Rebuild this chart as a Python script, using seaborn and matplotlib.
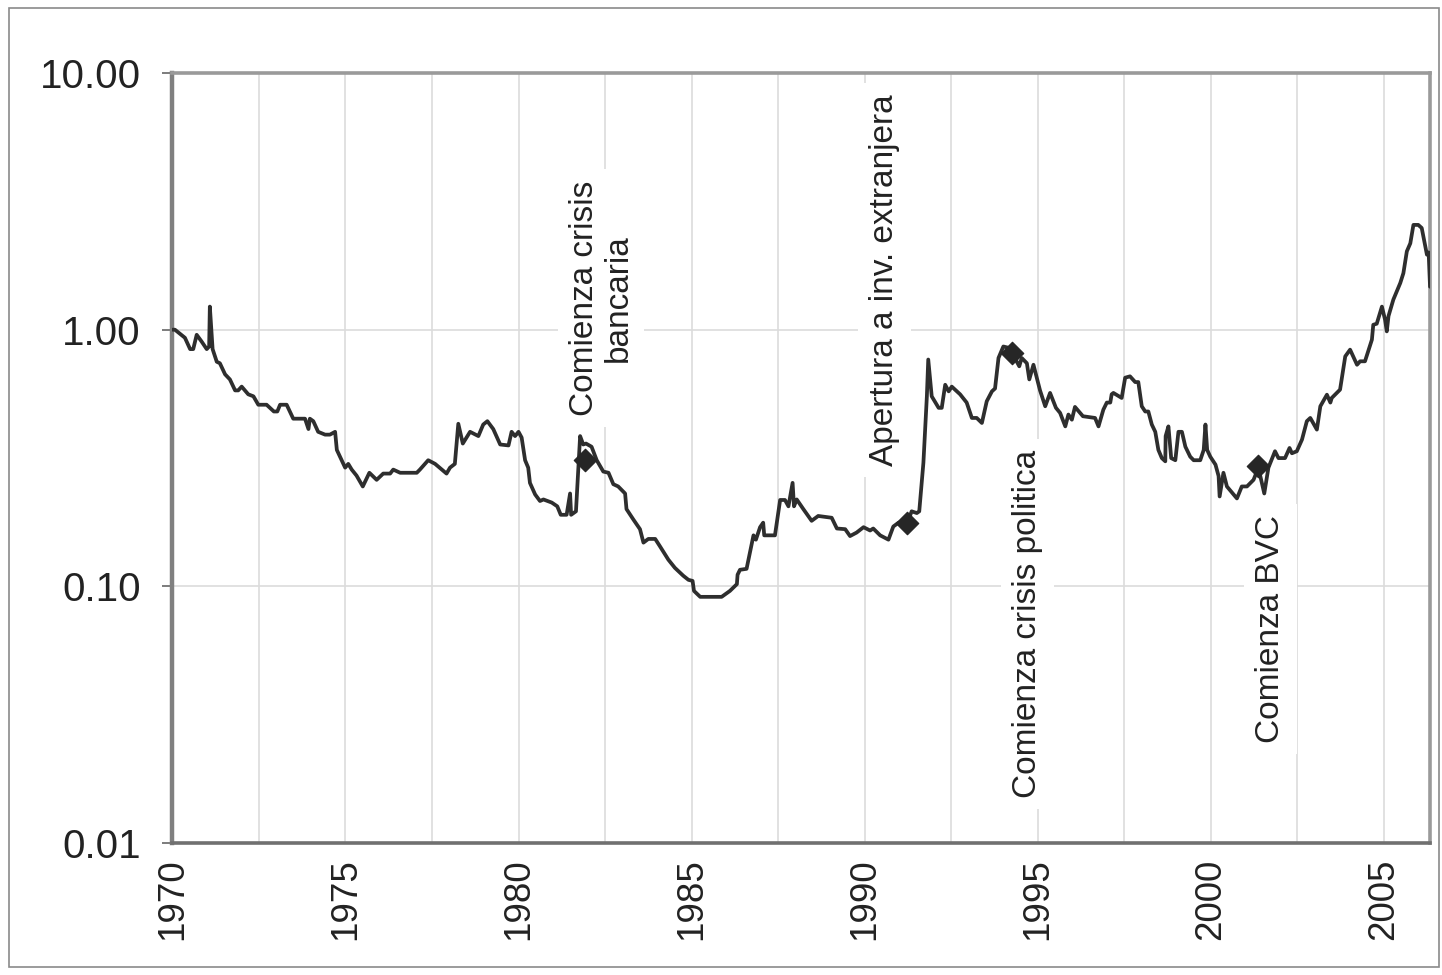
import numpy as np
import pandas as pd
import matplotlib
matplotlib.use('Agg')
import matplotlib.pyplot as plt
from matplotlib.ticker import FixedLocator, FixedFormatter, NullLocator
from matplotlib.patches import Rectangle
import seaborn as sns

# series (decimal year, index value)
years = [
    1970.00, 1970.07, 1970.36, 1970.51, 1970.60, 1970.70, 1970.84, 1970.99,
    1971.06, 1971.08, 1971.16, 1971.28, 1971.37, 1971.52, 1971.66, 1971.81,
    1971.90, 1972.00, 1972.19, 1972.34, 1972.48, 1972.72, 1972.93, 1973.03,
    1973.11, 1973.30, 1973.49, 1973.83, 1973.93, 1973.97, 1974.07, 1974.21,
    1974.41, 1974.55, 1974.70, 1974.75, 1974.89, 1974.99, 1975.08, 1975.18,
    1975.32, 1975.50, 1975.69, 1975.90, 1976.09, 1976.29, 1976.38, 1976.58,
    1977.06, 1977.15, 1977.39, 1977.59, 1977.92, 1978.02, 1978.16, 1978.26,
    1978.39, 1978.60, 1978.84, 1978.98, 1979.10, 1979.27, 1979.47, 1979.71,
    1979.80, 1979.90, 1980.00, 1980.09, 1980.19, 1980.28, 1980.33, 1980.48,
    1980.62, 1980.72, 1980.96, 1981.12, 1981.22, 1981.39, 1981.49, 1981.52,
    1981.66, 1981.78, 1981.87, 1981.95, 1982.11, 1982.26, 1982.45, 1982.60,
    1982.74, 1982.88, 1983.08, 1983.12, 1983.32, 1983.51, 1983.61, 1983.75,
    1983.95, 1984.09, 1984.33, 1984.52, 1984.76, 1984.91, 1985.03, 1985.07,
    1985.25, 1985.87, 1986.11, 1986.31, 1986.33, 1986.40, 1986.59, 1986.79,
    1986.86, 1986.98, 1987.07, 1987.10, 1987.41, 1987.56, 1987.70, 1987.80,
    1987.92, 1987.96, 1988.04, 1988.23, 1988.47, 1988.66, 1989.05, 1989.20,
    1989.44, 1989.58, 1989.77, 1989.97, 1990.16, 1990.25, 1990.45, 1990.69,
    1990.83, 1990.98, 1991.08, 1991.22, 1991.36, 1991.51, 1991.58, 1991.70,
    1991.80, 1991.84, 1991.94, 1992.14, 1992.23, 1992.33, 1992.43, 1992.52,
    1992.76, 1992.95, 1993.10, 1993.24, 1993.39, 1993.53, 1993.68, 1993.77,
    1993.87, 1994.01, 1994.16, 1994.26, 1994.40, 1994.47, 1994.54, 1994.69,
    1994.76, 1994.88, 1995.07, 1995.22, 1995.36, 1995.53, 1995.65, 1995.80,
    1995.89, 1995.99, 1996.08, 1996.31, 1996.66, 1996.76, 1996.90, 1997.00,
    1997.10, 1997.14, 1997.19, 1997.43, 1997.53, 1997.67, 1997.82, 1997.91,
    1998.01, 1998.11, 1998.20, 1998.30, 1998.40, 1998.49, 1998.59, 1998.69,
    1998.70, 1998.78, 1998.86, 1998.98, 1999.07, 1999.17, 1999.27, 1999.41,
    1999.51, 1999.70, 1999.80, 1999.85, 1999.90, 1999.99, 2000.14, 2000.23,
    2000.26, 2000.37, 2000.47, 2000.76, 2000.90, 2001.05, 2001.24, 2001.38,
    2001.55, 2001.67, 2001.86, 2001.96, 2002.15, 2002.28, 2002.35, 2002.49,
    2002.64, 2002.78, 2002.88, 2003.07, 2003.17, 2003.36, 2003.46, 2003.50,
    2003.74, 2003.89, 2004.03, 2004.23, 2004.32, 2004.46, 2004.66, 2004.70,
    2004.80, 2004.95, 2005.04, 2005.09, 2005.14, 2005.28, 2005.48, 2005.57,
    2005.67, 2005.77, 2005.86, 2006.00, 2006.10, 2006.25, 2006.30, 2006.34,
]
values = [
    1.00, 1.00, 0.93, 0.84, 0.84, 0.955, 0.90, 0.84,
    0.86, 1.23, 0.84, 0.75, 0.74, 0.67, 0.64, 0.58,
    0.58, 0.60, 0.56, 0.55, 0.51, 0.51, 0.48, 0.48,
    0.51, 0.51, 0.45, 0.45, 0.41, 0.45, 0.44, 0.40,
    0.39, 0.39, 0.40, 0.34, 0.31, 0.29, 0.30, 0.285,
    0.27, 0.245, 0.277, 0.26, 0.275, 0.275, 0.285, 0.277,
    0.277, 0.285, 0.31, 0.30, 0.275, 0.29, 0.30, 0.43,
    0.36, 0.40, 0.385, 0.427, 0.44, 0.41, 0.357, 0.354,
    0.40, 0.385, 0.40, 0.38, 0.31, 0.29, 0.253, 0.228,
    0.215, 0.218, 0.212, 0.205, 0.19, 0.19, 0.23, 0.19,
    0.196, 0.385, 0.357, 0.36, 0.35, 0.31, 0.28, 0.277,
    0.25, 0.245, 0.23, 0.20, 0.182, 0.167, 0.148, 0.153,
    0.153, 0.143, 0.127, 0.118, 0.110, 0.106, 0.105, 0.096,
    0.091, 0.091, 0.096, 0.102, 0.111, 0.116, 0.117, 0.158,
    0.152, 0.17, 0.177, 0.158, 0.158, 0.217, 0.217, 0.205,
    0.253, 0.205, 0.218, 0.20, 0.18, 0.188, 0.185, 0.168,
    0.167, 0.157, 0.162, 0.17, 0.165, 0.168, 0.158, 0.152,
    0.171, 0.177, 0.178, 0.174, 0.196, 0.193, 0.196, 0.303,
    0.55, 0.765, 0.55, 0.496, 0.496, 0.61, 0.575, 0.60,
    0.56, 0.52, 0.453, 0.453, 0.433, 0.526, 0.575, 0.59,
    0.776, 0.86, 0.85, 0.82, 0.75, 0.72, 0.776, 0.74,
    0.64, 0.73, 0.58, 0.503, 0.567, 0.496, 0.474, 0.42,
    0.467, 0.446, 0.50, 0.46, 0.453, 0.42, 0.488, 0.52,
    0.52, 0.56, 0.567, 0.542, 0.65, 0.658, 0.625, 0.625,
    0.503, 0.48, 0.48, 0.427, 0.40, 0.34, 0.316, 0.307,
    0.385, 0.42, 0.316, 0.31, 0.40, 0.40, 0.35, 0.32,
    0.31, 0.31, 0.34, 0.427, 0.34, 0.32, 0.298, 0.269,
    0.224, 0.277, 0.245, 0.22, 0.245, 0.245, 0.26, 0.29,
    0.23, 0.29, 0.336, 0.316, 0.316, 0.346, 0.33, 0.336,
    0.373, 0.44, 0.453, 0.408, 0.503, 0.558, 0.52, 0.542,
    0.584, 0.787, 0.836, 0.73, 0.753, 0.753, 0.914, 1.045,
    1.055, 1.23, 1.094, 0.985, 1.13, 1.31, 1.52, 1.66,
    2.02, 2.17, 2.56, 2.56, 2.49, 1.96, 2.00, 1.47,
]

# event markers and their labels
event_years = [1981.92, 1991.23, 1994.26, 2001.37]
event_values = [0.312, 0.176, 0.814, 0.294]
event_labels = [
    'Comienza crisis\nbancaria',
    'Apertura a inv. extranjera',
    'Comienza crisis politica',
    'Comienza BVC',
]
label_years = [1982.39, 1990.59, 1994.70, 2001.72]
label_values = [1.33, 1.565, 0.0711, 0.068]

ytick_vals = [0.01, 0.1, 1, 10]
ytick_labels = ['0.01', '0.10', '1.00', '10.00']
xtick_major = [1970, 1975, 1980, 1985, 1990, 1995, 2000, 2005]
xtick_minor = [1972.5, 1977.5, 1982.5, 1987.5, 1992.5, 1997.5, 2002.5]

sns.set_style('white')
plt.rcParams['font.family'] = ['Liberation Sans', 'DejaVu Sans']

df = pd.DataFrame({'year': years, 'value': values})
ev = pd.DataFrame({'year': event_years, 'value': event_values})

fig = plt.figure(figsize=(14.42, 9.75), dpi=100)
ax = fig.add_axes([0.1196, 0.1354, 0.8721, 0.7897])

sns.lineplot(data=df, x='year', y='value', ax=ax, estimator=None, sort=False,
             color='#2e2e2e', linewidth=2.7, zorder=3)
sns.scatterplot(data=ev, x='year', y='value', ax=ax, marker='D', s=130,
                color='#262626', edgecolor='#262626', zorder=4)

ax.set_yscale('log')
ax.set_ylim(0.01, 10)
ax.set_xlim(1970, 2006.34)
ax.yaxis.set_major_locator(FixedLocator(ytick_vals))
ax.yaxis.set_major_formatter(FixedFormatter(ytick_labels))
ax.yaxis.set_minor_locator(NullLocator())
ax.set_xticks(xtick_major)
ax.set_xticklabels([str(y) for y in xtick_major], rotation=90)
ax.set_xticks(xtick_minor, minor=True)
ax.set_xlabel('')
ax.set_ylabel('')

ax.set_axisbelow(True)
ax.grid(True, which='both', axis='x', color='#dcdcdc', linewidth=1.2)
ax.grid(True, which='major', axis='y', color='#dcdcdc', linewidth=1.2)

ax.tick_params(axis='y', which='major', length=7, width=1.2, color='#666666',
               pad=16, labelsize=29, labelcolor='#222222', left=True)
ax.tick_params(axis='x', which='both', length=0, pad=11, labelsize=26.5,
               labelcolor='#222222')

for side, col, lw in [('left', '#808080', 3.2), ('bottom', '#707070', 2.6),
                      ('top', '#9a9a9a', 2.6), ('right', '#9a9a9a', 2.6)]:
    ax.spines[side].set_visible(True)
    ax.spines[side].set_color(col)
    ax.spines[side].set_linewidth(lw)

for lx, ly, txt in zip(label_years, label_values, event_labels):
    ax.text(lx, ly, txt, rotation=90, ha='center', va='center',
            multialignment='center', fontsize=24, color='#222222',
            linespacing=1.1, zorder=2,
            bbox=dict(facecolor='white', edgecolor='none', pad=8))

fig.patches.append(Rectangle((0.006, 0.008), 0.992, 0.984,
                             transform=fig.transFigure, fill=False,
                             edgecolor='#8a8a8a', linewidth=1.2))

fig.savefig('out.png', dpi=100)
